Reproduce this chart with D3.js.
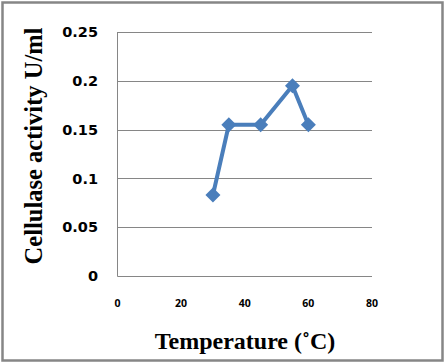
<!DOCTYPE html>
<html><head><meta charset="utf-8">
<script src="https://cdn.jsdelivr.net/npm/d3@7"></script>
<style>html,body{margin:0;padding:0;background:#fff;}svg{display:block;}</style>
</head><body>
<svg id="c" width="447" height="364"></svg>
<script>
const temps = [30, 35, 45, 55, 60];
const activity = [0.083, 0.155, 0.155, 0.195, 0.155];
const xTicks = [0, 20, 40, 60, 80];
const yTicks = [0, 0.05, 0.1, 0.15, 0.2, 0.25];
const xTitle = "Temperature (˚C)";
const yTitle = "Cellulase activity U/ml";

const svg = d3.select("#c");
svg.append("rect").attr("x", 2.5).attr("y", 2.5).attr("width", 440).attr("height", 358)
  .attr("fill", "#fff").attr("stroke", "#868686").attr("stroke-width", 2.5);

const x = d3.scaleLinear().domain([0, 80]).range([117.5, 372]);
const y = d3.scaleLinear().domain([0, 0.25]).range([276, 32]);

// gridlines
svg.append("g").selectAll("line").data(yTicks).join("line")
  .attr("x1", x(0)).attr("x2", x(80))
  .attr("y1", d => Math.round(y(d)) + 0.5).attr("y2", d => Math.round(y(d)) + 0.5)
  .attr("stroke", "#868686").attr("stroke-width", 1);
// y axis line
svg.append("line").attr("x1", 117.5).attr("x2", 117.5).attr("y1", y(0.25)).attr("y2", y(0) + 0.5)
  .attr("stroke", "#868686").attr("stroke-width", 1);

// y tick labels
svg.append("g").selectAll("text").data(yTicks).join("text")
  .attr("x", 98).attr("y", d => y(d)).attr("dy", "0.36em")
  .attr("text-anchor", "end")
  .attr("font-family", "'DejaVu Sans', sans-serif").attr("font-weight", "bold")
  .attr("font-size", 14.5).attr("fill", "#000")
  .text(d => d === 0 ? "0" : String(d));

// x tick labels
svg.append("g").selectAll("text").data(xTicks).join("text")
  .attr("x", d => x(d)).attr("y", 303).attr("dy", "0.36em")
  .attr("text-anchor", "middle")
  .attr("font-family", "'Open Sans', 'Liberation Sans', sans-serif").attr("font-weight", "bold")
  .attr("font-size", 10.5).attr("fill", "#000")
  .text(d => d);

// axis titles
svg.append("text").attr("x", 245).attr("y", 349).attr("text-anchor", "middle")
  .attr("font-family", "'Liberation Serif', 'Times New Roman', serif").attr("font-weight", "bold")
  .attr("font-size", 24).text(xTitle);
svg.append("text").attr("transform", "translate(42,146) rotate(-90)").attr("text-anchor", "middle")
  .attr("font-family", "'Liberation Serif', 'Times New Roman', serif").attr("font-weight", "bold")
  .attr("font-size", 24.5).text(yTitle);

// line
const pts = temps.map((t, i) => [t, activity[i]]);
svg.append("path").datum(pts)
  .attr("d", d3.line().x(d => x(d[0])).y(d => y(d[1])))
  .attr("fill", "none").attr("stroke", "#4a7ebb").attr("stroke-width", 4).attr("stroke-linejoin", "round");
svg.append("g").selectAll("path").data(pts).join("path")
  .attr("transform", d => `translate(${x(d[0])},${y(d[1])})`)
  .attr("d", "M0,-7.5L7.5,0L0,7.5L-7.5,0Z")
  .attr("fill", "#4a7ebb");
</script>
</body></html>
